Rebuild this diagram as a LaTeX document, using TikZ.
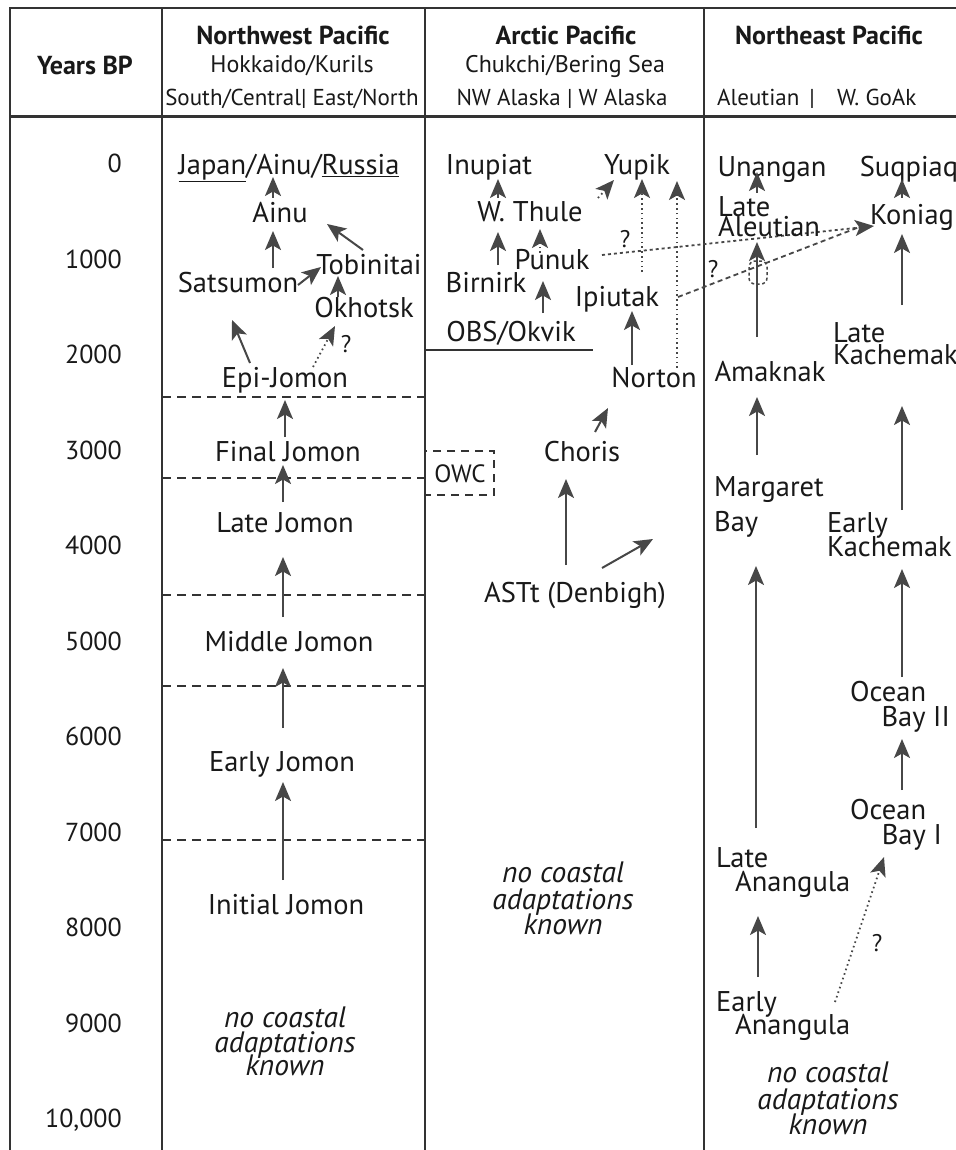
\documentclass[tikz,border=0pt]{standalone}
\usepackage{fontspec}
\setmainfont{PT Sans}
\usetikzlibrary{arrows.meta}
\begin{document}
\begin{tikzpicture}[x=1pt,y=-1pt,
  t/.style={font=\fontsize{28.5}{30}\selectfont, inner sep=0pt, anchor=base, yshift=-9.5pt, text=black!90},
  tl/.style={t, anchor=base west},
  tr/.style={t, anchor=base east},
  yr/.style={t, anchor=base east, font=\fontsize{26}{30}\selectfont},
  hb/.style={t, font=\bfseries\fontsize{26}{30}\selectfont},
  hs/.style={t, font=\fontsize{24}{28}\selectfont},
  hss/.style={t, font=\fontsize{23}{24}\selectfont, yshift=1pt},
  it/.style={t, font=\itshape\fontsize{29.5}{30}\selectfont},
  frame/.style={draw=black!80, line width=2pt},
  period/.style={draw=black!80, line width=2pt, dash pattern=on 9pt off 6pt},
  arr/.style={draw=black!72, line width=2pt, -{Stealth[length=19pt,width=16pt,inset=4.5pt]}},
  dotarr/.style={arr, line width=1.8pt, dash pattern=on 1.6pt off 3.2pt},
  dasharr/.style={arr, line width=1.8pt, dash pattern=on 5pt off 3.5pt},
  q/.style={t, font=\fontsize{24}{26}\selectfont}
]
\useasboundingbox (0,0) rectangle (955,1150);
\fill[white] (0,0) rectangle (955,1150);

% frame
\draw[frame] (10,1155) -- (10,8) -- (960,8);
\draw[frame, line width=3pt] (10,117) -- (960,117);
\draw[frame] (162,8) -- (162,1155);
\draw[frame] (425,8) -- (425,1155);
\draw[frame] (704,8) -- (704,1155);

% headers
\node[hb] (hyears) at (85,65) {Years BP};
\node[hb] (hnw) at (293,35) {Northwest Pacific};
\node[hs] (hnw2) at (292,63) {Hokkaido/Kurils};
\node[hss] (hnw3) at (292,97) {South/Central| East/North};
\node[hb] (har) at (566,35) {Arctic Pacific};
\node[hs] (har2) at (565,63) {Chukchi/Bering Sea};
\node[hss] (har3) at (562,97) {NW Alaska | W Alaska};
\node[hb] (hne) at (829,35) {Northeast Pacific};
\node[hss, anchor=base west] (hne3) at (717,97) {Aleutian \,|\, \ \ W. GoAk};

% years
\foreach \k/\lab in {0/0,1/1000,2/2000,3/3000,4/4000,5/5000,6/6000,7/7000,8/8000,9/9000,10/{10,000}}
  \node[yr] (y\k) at (122,{163+95.5*\k}) {\lab};

% column 1 period lines
\foreach \yy in {397,478,595,686,840}
  \draw[period] (162,\yy) -- (425,\yy);
\draw[period, dash pattern=on 8pt off 6pt] (425,451) rectangle (494,495);
\node[t, font=\fontsize{25}{26}\selectfont, yshift=1pt] (owc) at (460,474) {OWC};

% column 1 texts
\node[t] (japan) at (289,165) {\underline{Japan}/Ainu/\underline{Russia}};
\node[t] (ainu) at (280,213) {Ainu};
\node[t] (sats) at (238,283) {Satsumon};
\node[t] (tobi) at (369,265) {Tobinitai};
\node[t] (okh) at (364,308) {Okhotsk};
\node[t] (epi) at (285,378) {Epi-Jomon};
\node[t] (final) at (288,452) {Final Jomon};
\node[t] (late) at (285,523) {Late Jomon};
\node[t] (middle) at (289,642) {Middle Jomon};
\node[t] (early) at (282,762) {Early Jomon};
\node[t] (initial) at (286,905) {Initial Jomon};
\node[it] (nc1a) at (285,1018) {no coastal};
\node[it] (nc1b) at (285,1043) {adaptations};
\node[it] (nc1c) at (285,1066) {known};
\node[q] (q1) at (346,343) {?};

% column 1 arrows
\coordinate (a1s) at (273,198); \coordinate (a1e) at (273,177);
\draw[arr] (a1s) -- (a1e);
\coordinate (a2s) at (273,268); \coordinate (a2e) at (273,231);
\draw[arr] (a2s) -- (a2e);
\coordinate (a3s) at (298,285); \coordinate (a3e) at (321,267);
\draw[arr] (a3s) -- (a3e);
\coordinate (a4s) at (363,250); \coordinate (a4e) at (327,224);
\draw[arr] (a4s) -- (a4e);
\coordinate (a5s) at (338,297); \coordinate (a5e) at (338,276);
\draw[arr] (a5s) -- (a5e);
\coordinate (a6s) at (250,363); \coordinate (a6e) at (232,320);
\draw[arr] (a6s) -- (a6e);
\coordinate (a7s) at (313,367); \coordinate (a7e) at (335,326);
\draw[dotarr] (a7s) -- (a7e);
\coordinate (a8s) at (285,437); \coordinate (a8e) at (285,400);
\draw[arr] (a8s) -- (a8e);
\coordinate (a9s) at (283,502); \coordinate (a9e) at (283,465);
\draw[arr] (a9s) -- (a9e);
\coordinate (a10s) at (283,617); \coordinate (a10e) at (283,557);
\draw[arr] (a10s) -- (a10e);
\coordinate (a11s) at (283,728); \coordinate (a11e) at (283,668);
\draw[arr] (a11s) -- (a11e);
\coordinate (a12s) at (283,880); \coordinate (a12e) at (283,782);
\draw[arr] (a12s) -- (a12e);

% column 2
\draw[frame] (425,350) -- (593,350);
\node[t] (inup) at (489,165) {Inupiat};
\node[t] (yupik) at (637,165) {Yupik};
\node[t] (thule) at (530,212) {W.\hspace{8pt}Thule};
\node[t] (punuk) at (552,260) {Punuk};
\node[t] (birn) at (486,283) {Birnirk};
\node[t] (obs) at (511,332) {OBS/Okvik};
\node[t] (ipiu) at (617,297) {Ipiutak};
\node[t] (norton) at (654,378) {Norton};
\node[t] (choris) at (582,452) {Choris};
\node[t] (astt) at (575,593) {ASTt (Denbigh)};
\node[it] (nc2a) at (563,873) {no coastal};
\node[it] (nc2b) at (563,900) {adaptations};
\node[it] (nc2c) at (563,925) {known};
\node[q] (q2) at (625,238) {?};
\node[q] (q3) at (713,268) {?};

\coordinate (b1s) at (498,198); \coordinate (b1e) at (498,179);
\draw[arr] (b1s) -- (b1e);
\coordinate (b2s) at (498,265); \coordinate (b2e) at (498,232);
\draw[arr] (b2s) -- (b2e);
\coordinate (b3s) at (540,253); \coordinate (b3e) at (540,229);
\draw[dotarr] (b3s) -- (b3e);
\coordinate (b4s) at (543,313); \coordinate (b4e) at (543,281);
\draw[arr] (b4s) -- (b4e);
\coordinate (b5s) at (632,365); \coordinate (b5e) at (632,311);
\draw[arr] (b5s) -- (b5e);
\coordinate (b6s) at (642,272); \coordinate (b6e) at (642,179);
\draw[dotarr] (b6s) -- (b6e);
\coordinate (b7s) at (677,368); \coordinate (b7e) at (677,181);
\draw[dotarr] (b7s) -- (b7e);
\coordinate (b8s) at (598,198); \coordinate (b8e) at (614,180);
\draw[dotarr] (b8s) -- (b8e);
\coordinate (b9s) at (602,255); \coordinate (kon) at (874,226);
\draw[dotarr, dash pattern=on 3pt off 3pt] (b9s) -- (kon);
\coordinate (b10s) at (678,297); \coordinate (b10e) at (862,226);
\draw[dasharr, -] (b10s) -- (b10e);
\draw[black!72, line width=1.5pt, dash pattern=on 3pt off 2.5pt, rounded corners=6pt] (749,261) rectangle (767,284);
\coordinate (b11s) at (595,432); \coordinate (b11e) at (608,408);
\draw[arr] (b11s) -- (b11e);
\coordinate (b12s) at (566,565); \coordinate (b12e) at (566,479);
\draw[arr] (b12s) -- (b12e);
\coordinate (b13s) at (602,568); \coordinate (b13e) at (653,539);
\draw[arr] (b13s) -- (b13e);

% column 3
\node[t] (unan) at (772,167) {Unangan};
\node[t] (suq) at (909,167) {Suqpiaq};
\node[tl] (lal1) at (718,207) {Late};
\node[tl] (lal2) at (718,227) {Aleutian};
\node[t] (koniag) at (912,215) {Koniag};
\node[tl] (lk1) at (833,333) {Late};
\node[tl] (lk2) at (833,355) {Kachemak};
\node[t] (amak) at (770,372) {Amaknak};
\node[tl] (mb1) at (714,487) {Margaret};
\node[tl] (mb2) at (714,522) {Bay};
\node[tl] (ek1) at (827,523) {Early};
\node[tl] (ek2) at (827,547) {Kachemak};
\node[tl] (ob2a) at (850,692) {Ocean};
\node[tr] (ob2b) at (950,717) {Bay II};
\node[tl] (ob1a) at (850,810) {Ocean};
\node[tr] (ob1b) at (942,835) {Bay I};
\node[tl] (la1) at (716,858) {Late};
\node[tl] (la2) at (735,882) {Anangula};
\node[tl] (ea1) at (716,1002) {Early};
\node[tl] (ea2) at (735,1025) {Anangula};
\node[it] (nc3a) at (828,1073) {no coastal};
\node[it] (nc3b) at (828,1100) {adaptations};
\node[it] (nc3c) at (828,1125) {known};
\node[q] (q4) at (877,942) {?};

\coordinate (c1s) at (757,193); \coordinate (c1e) at (757,172);
\draw[arr] (c1s) -- (c1e);
\coordinate (c2s) at (902,198); \coordinate (c2e) at (902,179);
\draw[arr] (c2s) -- (c2e);
\coordinate (c3s) at (757,337); \coordinate (c3e) at (757,242);
\draw[arr] (c3s) -- (c3e);
\coordinate (c4s) at (902,305); \coordinate (c4e) at (902,234);
\draw[arr] (c4s) -- (c4e);
\coordinate (c5s) at (757,455); \coordinate (c5e) at (757,397);
\draw[arr] (c5s) -- (c5e);
\coordinate (c6s) at (902,510); \coordinate (c6e) at (902,406);
\draw[arr] (c6s) -- (c6e);
\coordinate (c7s) at (756,828); \coordinate (c7e) at (756,566);
\draw[arr] (c7s) -- (c7e);
\coordinate (c8s) at (902,677); \coordinate (c8e) at (902,569);
\draw[arr] (c8s) -- (c8e);
\coordinate (c9s) at (902,790); \coordinate (c9e) at (902,739);
\draw[arr] (c9s) -- (c9e);
\coordinate (c10s) at (758,977); \coordinate (c10e) at (758,916);
\draw[arr] (c10s) -- (c10e);
\coordinate (c11s) at (835,1002); \coordinate (c11e) at (884,857);
\draw[dotarr] (c11s) -- (c11e);
\end{tikzpicture}
\end{document}
